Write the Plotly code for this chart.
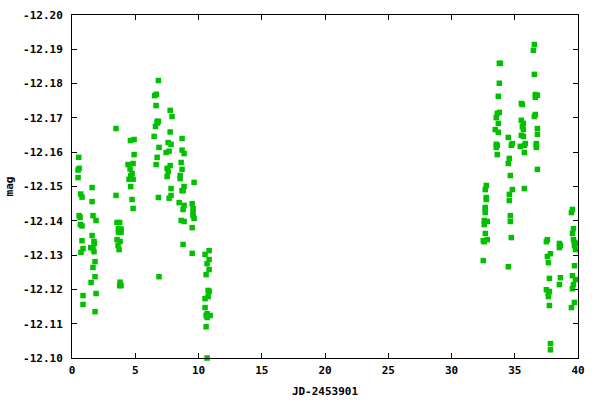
import plotly.graph_objects as go

# Early run (JD-2453901 ~ 0..11)
jd_early = [0.53, 0.56, 0.48, 0.48, 0.69, 0.79, 0.56, 0.64, 0.66, 0.79, 0.79, 0.87, 0.71, 0.87, 0.87,
            1.59, 1.59, 1.66, 1.90, 1.59, 1.74, 1.77, 1.48, 1.66, 1.74, 1.82, 1.66, 1.82, 1.51, 1.90, 1.82,
            3.48, 3.48, 3.56, 3.77, 3.67, 3.88, 3.67, 3.88, 3.56, 3.80, 3.64, 3.72, 3.80, 3.77, 3.88,
            4.62, 4.91, 4.91, 4.43, 4.83, 4.59, 4.75, 4.64, 4.83, 4.51, 4.64, 4.75, 4.83,
            6.83, 6.54, 6.67, 6.65, 6.73, 6.83, 6.60, 6.75, 6.49, 6.88, 6.73, 6.65, 6.83, 6.88,
            7.76, 7.91, 7.76, 7.60, 7.83, 7.44, 7.68, 7.76, 7.52, 7.60, 7.52, 7.83, 7.83, 7.68,
            8.70, 8.70, 8.86, 8.63, 8.70, 8.55, 8.55, 8.86, 8.70, 8.78, 8.47, 8.86, 8.78, 8.63, 8.86, 8.78,
            9.65, 9.50, 9.57, 9.57, 9.57, 9.65, 9.50, 9.50,
            10.84, 10.52, 10.84, 10.68, 10.84, 10.60, 10.76, 10.84, 10.76, 10.52, 10.52, 10.68, 10.60, 10.92, 10.68, 10.60, 10.68]
mag_early = [-12.1585, -12.1553, -12.1548, -12.1526, -12.1478, -12.1469, -12.1415, -12.1410, -12.1389, -12.1385,
             -12.1342, -12.1319, -12.1308, -12.1182, -12.1156,
             -12.1497, -12.1456, -12.1415, -12.1401, -12.1357, -12.1340, -12.1334, -12.1322, -12.1319, -12.1310,
             -12.1281, -12.1264, -12.1237, -12.1220, -12.1188, -12.1135,
             -12.1669, -12.1474, -12.1395, -12.1395, -12.1377, -12.1376, -12.1367, -12.1366, -12.1345, -12.1340,
             -12.1328, -12.1316, -12.1221, -12.1211, -12.1211,
             -12.1634, -12.1637, -12.1593, -12.1564, -12.1567, -12.1551, -12.1538, -12.1531, -12.1521, -12.1521,
             -12.1500, -12.1462, -12.1436,
             -12.1809, -12.1765, -12.1769, -12.1736, -12.1690, -12.1690, -12.1675, -12.1685, -12.1646, -12.1614,
             -12.1585, -12.1564, -12.1468, -12.1237,
             -12.1722, -12.1704, -12.1659, -12.1628, -12.1623, -12.1599, -12.1603, -12.1561, -12.1553, -12.1544,
             -12.1529, -12.1494, -12.1474, -12.1466,
             -12.1640, -12.1606, -12.1596, -12.1570, -12.1550, -12.1532, -12.1523, -12.1500, -12.1488, -12.1488,
             -12.1453, -12.1445, -12.1433, -12.1401, -12.1398, -12.1331,
             -12.1512, -12.1450, -12.1436, -12.1424, -12.1415, -12.1407, -12.1380, -12.1305,
             -12.1313, -12.1302, -12.1287, -12.1275, -12.1258, -12.1243, -12.1197, -12.1194, -12.1179, -12.1173,
             -12.1147, -12.1129, -12.1124, -12.1124, -12.1118, -12.1091, -12.1000]

# Late run (JD-2453901 ~ 32..40)
jd_late = [32.75, 32.67, 32.75, 32.75, 32.67, 32.67, 32.67, 32.83, 32.59, 32.59, 32.67, 32.51, 32.83, 32.59, 32.51,
           33.78, 33.86, 33.78, 33.70, 33.78, 33.62, 33.54, 33.70, 33.46, 33.70, 33.54, 33.62, 33.54, 33.62,
           34.49, 34.81, 34.73, 34.57, 34.49, 34.65, 34.81, 34.57, 34.57, 34.65, 34.65, 34.73, 34.49,
           35.52, 35.60, 35.52, 35.68, 35.60, 35.68, 35.52, 35.68, 35.84, 35.44, 35.76, 35.76, 35.76,
           36.55, 36.47, 36.55, 36.63, 36.79, 36.63, 36.63, 36.55, 36.79, 36.79, 36.71, 36.71, 36.71, 36.79,
           37.58, 37.50, 37.82, 37.58, 37.66, 37.74, 37.50, 37.74, 37.66, 37.66, 37.74, 37.82, 37.82,
           38.53, 38.61, 38.53, 38.61, 38.53,
           39.56, 39.48, 39.64, 39.56, 39.64, 39.72, 39.80, 39.72, 39.80, 39.72, 39.56, 39.80, 39.64, 39.56, 39.72, 39.48]
mag_late = [-12.1503, -12.1491, -12.1468, -12.1462, -12.1439, -12.1433, -12.1424, -12.1398, -12.1401, -12.1389,
            -12.1363, -12.1342, -12.1345, -12.1339, -12.1284,
            -12.1859, -12.1859, -12.1801, -12.1763, -12.1716, -12.1713, -12.1701, -12.1684, -12.1666, -12.1658,
            -12.1623, -12.1620, -12.1614, -12.1593,
            -12.1643, -12.1625, -12.1620, -12.1582, -12.1567, -12.1532, -12.1491, -12.1477, -12.1459, -12.1415,
            -12.1398, -12.1351, -12.1266,
            -12.1742, -12.1739, -12.1693, -12.1684, -12.1675, -12.1666, -12.1649, -12.1646, -12.1625, -12.1617,
            -12.1620, -12.1599, -12.1494,
            -12.1914, -12.1897, -12.1827, -12.1768, -12.1766, -12.1760, -12.1710, -12.1704, -12.1669, -12.1652,
            -12.1625, -12.1620, -12.1614, -12.1550,
            -12.1345, -12.1339, -12.1304, -12.1296, -12.1278, -12.1232, -12.1199, -12.1194, -12.1188, -12.1179,
            -12.1153, -12.1042, -12.1024,
            -12.1334, -12.1328, -12.1322, -12.1234, -12.1214,
            -12.1433, -12.1424, -12.1377, -12.1363, -12.1345, -12.1337, -12.1334, -12.1328, -12.1316, -12.1269,
            -12.1240, -12.1229, -12.1214, -12.1202, -12.1162, -12.1147]

x_ticks = [0, 5, 10, 15, 20, 25, 30, 35, 40]
y_ticks = [-12.20, -12.19, -12.18, -12.17, -12.16, -12.15, -12.14, -12.13, -12.12, -12.11, -12.10]

fig = go.Figure()
fig.add_trace(go.Scatter(
    x=jd_early + jd_late, y=mag_early + mag_late, mode="markers",
    marker=dict(symbol="square", size=5.5, color="#00c000", line=dict(width=0)),
    cliponaxis=False, showlegend=False,
))

font = dict(family="DejaVu Sans Mono", size=11, color="black", weight="bold")
axis_common = dict(showline=True, linecolor="black", linewidth=1, mirror="ticks",
                   ticks="inside", ticklen=5, tickcolor="black", showgrid=False,
                   zeroline=False, tickfont=font, automargin=False)
fig.update_xaxes(range=[0, 40], tickvals=x_ticks, ticktext=[str(v) for v in x_ticks],
                 ticklabelstandoff=2,
                 title=dict(text="JD-2453901", font=font, standoff=11), **axis_common)
fig.update_yaxes(range=[-12.10, -12.20], tickvals=y_ticks, ticktext=[f"{v:.2f}" for v in y_ticks],
                 ticklabelstandoff=6,
                 title=dict(text="mag", font=font, standoff=7), **axis_common)
fig.update_layout(width=600, height=400, margin=dict(l=72, r=22, t=15, b=42),
                  plot_bgcolor="white", paper_bgcolor="white")
fig.write_html("out.html", config={"displayModeBar": False},
               post_script="document.body.style.margin='0';document.body.style.padding='0';")
